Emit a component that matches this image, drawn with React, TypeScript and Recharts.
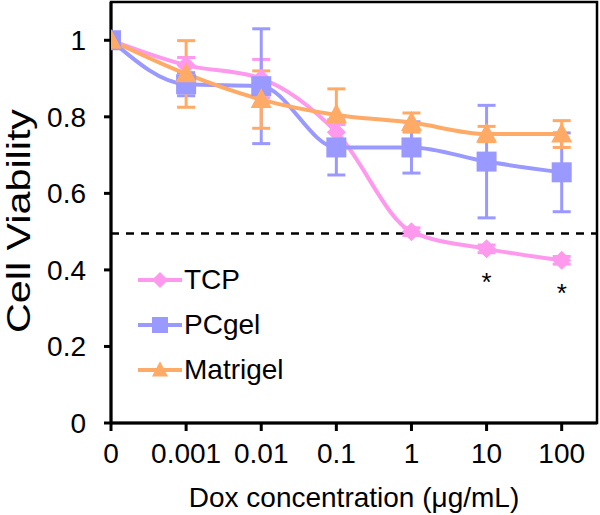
import {
  ComposedChart,
  Line,
  XAxis,
  YAxis,
  ErrorBar,
  ReferenceLine,
  ReferenceArea,
  LabelList,
} from "recharts";

const concLabels = ["0", "0.001", "0.01", "0.1", "1", "10", "100"];
const tcpMean = [1.0, 0.935, 0.9, 0.76, 0.5, 0.455, 0.425];
const tcpErr = [0, 0.02, 0.05, 0.02, 0.01, 0.01, 0.01];
const pcMean = [1.0, 0.885, 0.88, 0.72, 0.72, 0.683, 0.655];
const pcErr = [0, 0.03, 0.15, 0.072, 0.067, 0.147, 0.103];
const maMean = [1.0, 0.912, 0.845, 0.805, 0.785, 0.755, 0.755];
const maErr = [0, 0.087, 0.075, 0.068, 0.025, 0.02, 0.035];
const significant = [false, false, false, false, false, true, true];
const yTicks = [0, 0.2, 0.4, 0.6, 0.8, 1];
const halfMax = 0.495;

const PINK = "#ff99ee";
const BLUE = "#9999ff";
const ORANGE = "#ffaa66";
const FONT = "Arial, 'Liberation Sans', sans-serif";
const X_MAX = 6.47;
const Y_MAX = 1.1;

const data = concLabels.map((label, i) => ({
  x: i,
  label,
  tcp: tcpMean[i],
  tcpErr: tcpErr[i],
  pc: pcMean[i],
  pcErr: pcErr[i],
  ma: maMean[i],
  maErr: maErr[i],
  star: significant[i] ? "*" : "",
}));

const Diamond = ({ cx, cy, fill, s = 9.5 }: any) => (
  <polygon
    points={`${cx},${cy - s} ${cx + s},${cy} ${cx},${cy + s} ${cx - s},${cy}`}
    fill={fill}
  />
);
const Square = ({ cx, cy, fill, s = 10 }: any) => (
  <rect x={cx - s} y={cy - s} width={s * 2} height={s * 2} fill={fill} />
);
const Triangle = ({ cx, cy, fill, s = 10.5 }: any) => (
  <polygon
    points={`${cx},${cy - s * 1.1} ${cx + s},${cy + s * 0.8} ${cx - s},${cy + s * 0.8}`}
    fill={fill}
  />
);

const legendItems = [
  { name: "TCP", color: PINK, Shape: Diamond },
  { name: "PCgel", color: BLUE, Shape: Square },
  { name: "Matrigel", color: ORANGE, Shape: Triangle },
];

// legend sits inside the plot, lower left
const ChartLegend = () => (
  <div
    style={{
      position: "absolute",
      left: 136,
      top: 257,
      fontFamily: FONT,
      fontSize: 28,
      color: "#000",
    }}
  >
    {legendItems.map(({ name, color, Shape }) => (
      <div key={name} style={{ display: "flex", alignItems: "center", height: 45 }}>
        <svg width={48} height={24}>
          <line x1={2} y1={12} x2={46} y2={12} stroke={color} strokeWidth={4} />
          <Shape cx={24} cy={12} fill={color} s={8} />
        </svg>
        <span>{name}</span>
      </div>
    ))}
  </div>
);

const renderStar = (props: any) => {
  const { x, y, value } = props;
  if (!value) return null;
  return (
    <text x={x} y={y + 42} textAnchor="middle" fontSize={26} fontFamily={FONT} fill="#000">
      {value}
    </text>
  );
};

export default function App() {
  return (
    <div style={{ position: "absolute", left: 0, top: 0, width: 600, height: 515, background: "#fff" }}>
      <ComposedChart
        width={600}
        height={515}
        data={data}
        margin={{ top: 2, right: 3, bottom: 0, left: 0 }}
      >
        <ReferenceArea
          x1={0}
          x2={X_MAX}
          y1={0}
          y2={Y_MAX}
          fill="none"
          stroke="#000"
          strokeWidth={2.5}
          ifOverflow="visible"
        />
        <XAxis
          dataKey="x"
          type="number"
          domain={[0, X_MAX]}
          ticks={[0, 1, 2, 3, 4, 5, 6]}
          tickFormatter={(v) => concLabels[v]}
          allowDataOverflow
          height={92}
          stroke="#000"
          strokeWidth={3}
          tickSize={8}
          tickMargin={12}
          tick={{ fill: "#000", fontSize: 28, fontFamily: FONT }}
          label={() => (
            <text x={354} y={507} textAnchor="middle" fontSize={28} fontFamily={FONT} fill="#000">
              Dox concentration (μg/mL)
            </text>
          )}
        />
        <YAxis
          type="number"
          domain={[0, Y_MAX]}
          ticks={yTicks}
          tickFormatter={(v) => (v === 0 || v === 1 ? String(v) : v.toFixed(1))}
          allowDataOverflow
          width={111}
          stroke="#000"
          strokeWidth={3}
          tickSize={7}
          tickMargin={18}
          tick={{ fill: "#000", fontSize: 28, fontFamily: FONT }}
          label={() => (
            <text
              x={30}
              y={221}
              transform="rotate(-90 30 221)"
              textAnchor="middle"
              fontSize={34}
              fontFamily={FONT}
              fill="#000"
              textLength={224}
              lengthAdjust="spacingAndGlyphs"
            >
              Cell Viability
            </text>
          )}
        />
        <ReferenceLine y={halfMax} stroke="#000" strokeWidth={2.5} strokeDasharray="8 7" />
        <Line
          dataKey="tcp"
          type="monotone"
          stroke={PINK}
          strokeWidth={4}
          isAnimationActive={false}
          dot={(p: any) => <Diamond key={`t${p.index}`} cx={p.cx} cy={p.cy} fill={PINK} />}
          activeDot={false}
        >
          <ErrorBar dataKey="tcpErr" direction="y" width={9} stroke={PINK} strokeWidth={3} />
          <LabelList dataKey="star" content={renderStar} />
        </Line>
        <Line
          dataKey="pc"
          type="monotone"
          stroke={BLUE}
          strokeWidth={4}
          isAnimationActive={false}
          dot={(p: any) => <Square key={`p${p.index}`} cx={p.cx} cy={p.cy} fill={BLUE} />}
          activeDot={false}
        >
          <ErrorBar dataKey="pcErr" direction="y" width={9} stroke={BLUE} strokeWidth={3} />
        </Line>
        <Line
          dataKey="ma"
          type="monotone"
          stroke={ORANGE}
          strokeWidth={4}
          isAnimationActive={false}
          dot={(p: any) => <Triangle key={`m${p.index}`} cx={p.cx} cy={p.cy} fill={ORANGE} />}
          activeDot={false}
        >
          <ErrorBar dataKey="maErr" direction="y" width={9} stroke={ORANGE} strokeWidth={3} />
        </Line>
      </ComposedChart>
      <ChartLegend />
    </div>
  );
}
